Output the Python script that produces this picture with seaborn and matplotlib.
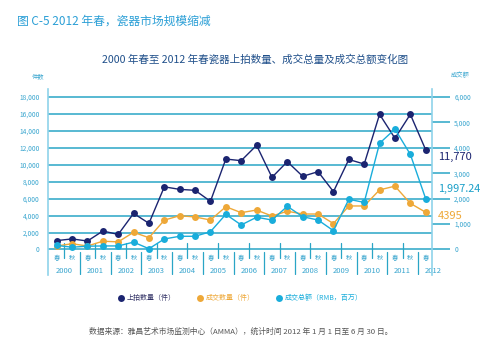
import matplotlib
matplotlib.use("Agg")
import matplotlib.pyplot as plt
from matplotlib.lines import Line2D
import seaborn as sns
import pandas as pd
import numpy as np

sns.set_style("white")
plt.rcParams['font.family'] = ['Noto Sans CJK SC', 'DejaVu Sans']
plt.rcParams['axes.unicode_minus'] = False

# ---------------- data ----------------
years = ["2000", "2001", "2002", "2003", "2004", "2005", "2006",
         "2007", "2008", "2009", "2010", "2011", "2012"]
seasons = ["春", "秋"]
periods = [f"{y}{s}" for y in years[:-1] for s in seasons] + ["2012春"]

lots_offered = [1050, 1250, 1000, 2180, 1780, 4260, 3090, 7400, 7100, 6990,
                5690, 10680, 10490, 12300, 8520, 10370, 8640, 9190, 6830,
                10630, 10090, 15960, 13130, 15960, 11770]
lots_sold = [420, 680, 410, 980, 900, 2030, 1390, 3470, 3990, 3840,
             3480, 5050, 4350, 4660, 3950, 4520, 4190, 4190, 3060,
             5140, 5140, 7040, 7480, 5450, 4395]
turnover = [160, 90, 130, 140, 140, 290, 30, 415, 520, 520,
            700, 1385, 965, 1270, 1160, 1700, 1290, 1160, 740,
            1975, 1855, 4180, 4740, 3745, 1997.24]

names = ["上拍数量（件）", "成交数量（件）", "成交总额（RMB，百万）"]
end_labels = ["11,770", "4395", "1,997.24"]
left_ticks = list(range(0, 18001, 2000))
right_ticks = list(range(0, 6001, 1000))

navy = "#1b2470"
orange = "#eea838"
cyan = "#19addb"
grid_c = "#2aa5c6"
axis_c = "#3aa6cf"

df = pd.DataFrame({"idx": np.arange(len(periods)), "period": periods,
                   "offered": lots_offered, "sold": lots_sold, "turnover": turnover})

W, H = 500, 358
fig = plt.figure(figsize=(W / 100, H / 100), dpi=100)

# axes geometry (pixels)
x_left, x_right = 48, 432
y_top_px, y_bot_px = 88.6, 274.9
ax = fig.add_axes([x_left / W, 1 - y_bot_px / H, (x_right - x_left) / W, (y_bot_px - y_top_px) / H])
ax2 = ax.twinx()

ax.set_xlim(-0.566, 24.41)
ax.set_ylim(-3000, 19000)
ax2.set_ylim(-1000, 19000 / 3)

# gridlines
ax.set_yticks(left_ticks)
ax.set_yticklabels([f"{v:,}" for v in left_ticks], fontsize=4.8, color=axis_c)
ax.tick_params(axis='y', length=0, pad=6)
for v in left_ticks:
    ax.axhline(v, color=grid_c, lw=1.1, zorder=1)

ax2.set_yticks(right_ticks)
ax2.set_yticklabels([f"{v:,}" for v in right_ticks], fontsize=4.8, color=axis_c)
ax2.tick_params(axis='y', length=13, width=1.1, color=grid_c, pad=3, direction='out')

ax.set_xticks([])
for a in (ax, ax2):
    for s in ("top", "bottom"):
        a.spines[s].set_visible(False)
    a.spines["left"].set_color("#8fd3ea")
    a.spines["right"].set_color("#8fd3ea")
    a.spines["left"].set_linewidth(1.2)
    a.spines["right"].set_linewidth(1.2)
ax.spines["right"].set_visible(False)
ax2.spines["left"].set_visible(False)

# lines
sns.lineplot(data=df, x="idx", y="offered", ax=ax, color=navy, marker="o",
             markersize=5, markeredgewidth=0, lw=1, zorder=5)
sns.lineplot(data=df, x="idx", y="sold", ax=ax, color=orange, marker="o",
             markersize=5, markeredgewidth=0, lw=1, zorder=5)
sns.lineplot(data=df, x="idx", y="turnover", ax=ax2, color=cyan, marker="o",
             markersize=5, markeredgewidth=0, lw=1, zorder=5)
ax.set_xlabel(""); ax.set_ylabel("")
ax2.set_xlabel(""); ax2.set_ylabel("")
ax.set_xlim(-0.566, 24.41)

# end labels
n = len(periods) - 1
ax.text(n + 0.8, lots_offered[-1] - 900, end_labels[0], color=navy, fontsize=8,
        ha="left", va="center", clip_on=False)
ax2.text(n + 0.8, turnover[-1] + 370, end_labels[2], color="#1a9fc8", fontsize=7.8,
         ha="left", va="center", clip_on=False)
ax.text(n + 0.8, lots_sold[-1] - 450, end_labels[1], color=orange, fontsize=8,
        ha="left", va="center", clip_on=False)

# category axis under the plot
for i, p in enumerate(periods):
    ax.text(i, -1050, p[-1], ha="center", va="center", fontsize=4.5, color=axis_c)
for k, y in enumerate(years):
    ax.text(2 * k + 0.5, -2500, y, ha="center", va="center", fontsize=5.5,
            color=axis_c, clip_on=False)
    # long separator before each year
    if k > 0:
        ax.plot([2 * k - 0.5, 2 * k - 0.5], [-300, -2900], color=grid_c, lw=0.9)
    # short separator between spring and autumn
    if k < len(years) - 1:
        ax.plot([2 * k + 0.5, 2 * k + 0.5], [800, -1000], color=grid_c, lw=0.9, zorder=2)

# axis titles
fig.text(38 / W, 1 - 76 / H, "件数", fontsize=4.5, color=axis_c, ha="center", va="center")
fig.text(460 / W, 1 - 75 / H, "成交额", fontsize=4.5, color=axis_c, ha="center", va="center")

# titles
fig.text(17 / W, 1 - 21 / H, "图 C-5 2012 年春，瓷器市场规模缩减", fontsize=8.5,
         color="#2b9fd6", ha="left", va="center")
fig.text(255 / W, 1 - 60 / H, "2000 年春至 2012 年春瓷器上拍数量、成交总量及成交总额变化图",
         fontsize=7.6, color="#1f4f8a", ha="center", va="center")

# legend
handles = [Line2D([], [], ls="none", marker="o", markersize=5, color=c, markeredgewidth=0)
           for c in (navy, orange, cyan)]
leg = fig.legend(handles, names, loc="center", bbox_to_anchor=(240 / W, 1 - 298 / H),
                 ncol=3, frameon=False, fontsize=5, handletextpad=0.3, columnspacing=3,
                 handlelength=1)
for t, c in zip(leg.get_texts(), ("#333366", orange, cyan)):
    t.set_color(c)

# footer
fig.text(241 / W, 1 - 332 / H,
         "数据来源：雅昌艺术市场监测中心（AMMA），统计时间 2012 年 1 月 1 日至 6 月 30 日。",
         fontsize=5.6, color="#555555", ha="center", va="center")

fig.savefig("out.png", dpi=100)
